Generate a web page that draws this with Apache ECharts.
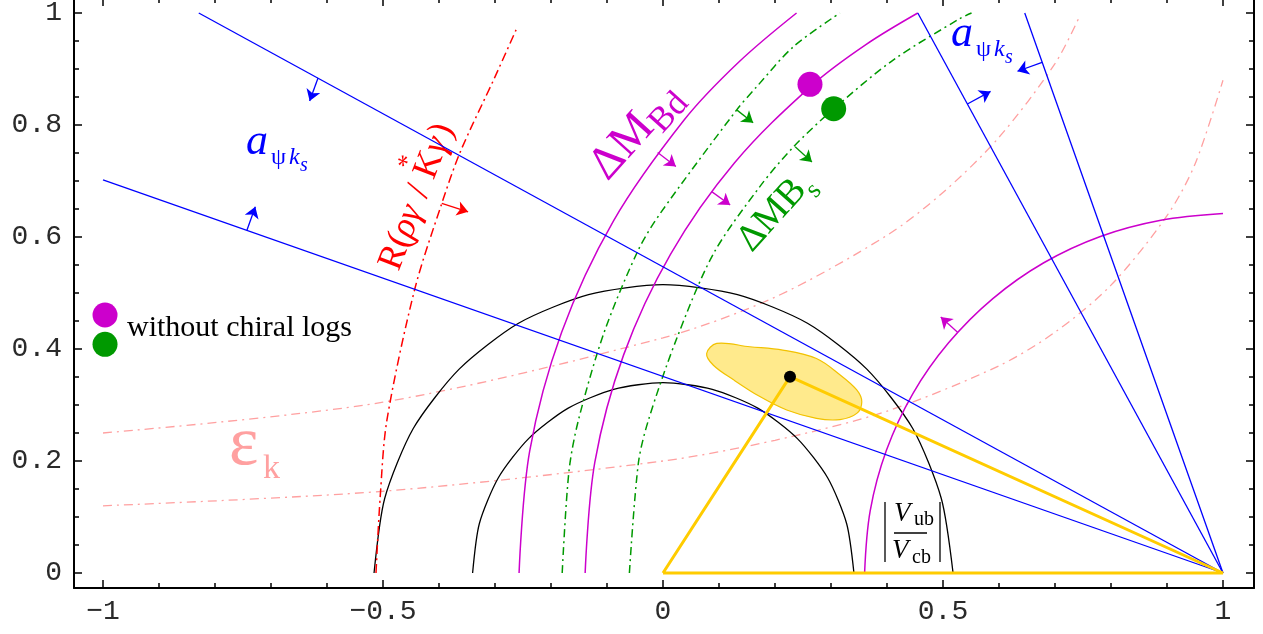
<!DOCTYPE html>
<html><head><meta charset="utf-8">
<script src="https://cdn.jsdelivr.net/npm/echarts@6/dist/echarts.min.js"></script>
<style>html,body{margin:0;padding:0;background:#fff}#c{width:1263px;height:634px}</style>
</head><body><div id="c"></div>
<script>
// ---- axis ticks ----
const xTickLabels = [-1, -0.5, 0, 0.5, 1];
const yTickLabels = [0, 0.2, 0.4, 0.6, 0.8, 1];
const xMinorTicks = [-1,-0.9,-0.8,-0.7,-0.6,-0.5,-0.4,-0.3,-0.2,-0.1,0,0.1,0.2,0.3,0.4,0.5,0.6,0.7,0.8,0.9,1];
const yMinorTicks = [0,0.05,0.1,0.15,0.2,0.25,0.3,0.35,0.4,0.45,0.5,0.55,0.6,0.65,0.7,0.75,0.8,0.85,0.9,0.95,1];

// ---- |Vub/Vcb| semicircles ----
const vubOuter = [[-0.516,0],[-0.497,0.133],[-0.446,0.258],[-0.364,0.364],[-0.258,0.446],[-0.133,0.497],[0,0.515],[0.133,0.497],[0.258,0.446],[0.364,0.364],[0.446,0.258],[0.497,0.133],[0.518,0]];
const vubInner = [[-0.34,0],[-0.328,0.088],[-0.294,0.17],[-0.24,0.24],[-0.17,0.294],[-0.088,0.328],[0,0.34],[0.088,0.328],[0.17,0.294],[0.24,0.24],[0.294,0.17],[0.328,0.088],[0.341,0]];

// ---- Delta M_Bd (magenta) ----
const dmdOuter = [[-0.257,0],[-0.238,0.218],[-0.181,0.43],[-0.0886,0.6285],[0.037,0.808],[0.135,0.912],[0.2385,1.0]];
const dmdInner = [[-0.139,0],[-0.1217,0.1978],[-0.0703,0.3895],[0.0136,0.5695],[0.1275,0.7321],[0.268,0.8725],[0.363,0.944],[0.455,1.0]];
const dmdRight = [[0.36,0],[0.37,0.111],[0.399,0.219],[0.446,0.32],[0.51,0.411],[0.589,0.49],[0.68,0.554],[0.781,0.601],[0.889,0.63],[1.0,0.642]];

// ---- Delta M_Bs (green) ----
const dmsLeft = [[-0.18,0],[-0.168,0.181],[-0.151,0.273],[-0.105,0.43],[-0.044,0.577],[-0.005,0.642],[0.1316,0.827],[0.167,0.868],[0.233,0.94],[0.316,1.0]];
const dmsRight = [[-0.06,0],[-0.044,0.196],[-0.026,0.273],[0.025,0.42],[0.09,0.57],[0.173,0.69],[0.233,0.761],[0.305,0.829],[0.411,0.916],[0.53,0.99],[0.551,1.0]];

// ---- R(rho gamma / K* gamma) (red) ----
const rhoGamma = [[-0.5125,0],[-0.505,0.136],[-0.493,0.273],[-0.443,0.508],[-0.395,0.66],[-0.362,0.752],[-0.3,0.886],[-0.261,0.973]];

// ---- epsilon_K hyperbolas (pink) ----
const epsUpper = [[-1,0.25],[-0.5,0.305],[0,0.42],[0.2,0.4926],[0.4,0.603],[0.5,0.6795],[0.6,0.778],[0.7,0.9096],[0.745,0.996]];
const epsLower = [[-1,0.12],[-0.5,0.146],[0,0.2],[0.2,0.237],[0.4,0.289],[0.6,0.37],[0.7,0.43],[0.8,0.514],[0.9,0.638],[0.95,0.73],[1.0,0.88]];

// ---- a_psiKs (blue lines) ----
const apsiA = [[-1,0.702],[1,0]];
const apsiB = [[-0.829,1.0],[1,0]];
const apsiC = [[0.455,1.0],[1,0]];
const apsiD = [[0.646,1.0],[1,0]];

// ---- unitarity triangle and fit region ----
const triangle = [[0,0],[0.2268,0.3506],[1,0],[0,0]];
const apex = [[0.2268,0.3506]];
const fitRegion = [[0.078,0.392],[0.096,0.41],[0.155,0.404],[0.214,0.398],[0.274,0.383],[0.316,0.354],[0.346,0.327],[0.355,0.306],[0.346,0.285],[0.316,0.274],[0.274,0.276],[0.221,0.291],[0.173,0.315],[0.126,0.345],[0.09,0.371]];

// ---- "without chiral logs" points ----
const noChiralBd = [[0.2625,0.8727],[-0.9964,0.4607]];
const noChiralBs = [[0.3048,0.829],[-0.9964,0.4084]];

// ---- arrows (start on curve, end at tip) ----
const blueArrows = [[[-0.616,0.884],[-0.631,0.843]],[[-0.743,0.612],[-0.728,0.654]],[[0.5436,0.8375],[0.585,0.86]],[[0.677,0.912],[0.633,0.896]]];
const magentaArrows = [[[-0.0095,0.751],[0.023,0.726]],[[0.087,0.681],[0.12,0.657]],[[0.526,0.43],[0.496,0.457]]];
const greenArrows = [[[0.1316,0.827],[0.161,0.804]],[[0.236,0.761],[0.266,0.734]]];
const redArrows = [[[-0.395,0.66],[-0.348,0.645]]];

const X_MIN = -1.0518, X_MAX = 1.0554, Y_MIN = -0.0268, Y_MAX = 1.0268;

const BLUE = '#0000ff', MAG = '#cc00cc', GREEN = '#009900', RED = '#ff0000', PINK = '#ffa0a0', GOLD = '#ffcc00';
const SERIF = "'Liberation Serif','Times New Roman',serif";

const chart = echarts.init(document.getElementById('c'));

function fmt(v){ return v < 0 ? '\u2212' + String(-v) : String(v); }
const tickStyle = {color:'#000', width:1.5};
const lineStyleAxis = {color:'#000', width:2};
function xAx(pos, major){
  return {type:'value', min:X_MIN, max:X_MAX, position:pos, splitLine:{show:false},
    axisLine:{show:major, onZero:false, lineStyle:lineStyleAxis},
    axisTick:{show:true, inside:true, length: major?8:5, customValues: major?xTickLabels:xMinorTicks, lineStyle:tickStyle},
    axisLabel:{show: major && pos==='bottom', customValues:xTickLabels, formatter:fmt, fontFamily:"'Liberation Mono',monospace", fontSize:28, color:'#2a2a2a', margin:10}};
}
function yAx(pos, major){
  return {type:'value', min:Y_MIN, max:Y_MAX, position:pos, splitLine:{show:false},
    axisLine:{show:major, onZero:false, lineStyle:lineStyleAxis},
    axisTick:{show:true, inside:true, length: major?8:5, customValues: major?yTickLabels:yMinorTicks, lineStyle:tickStyle},
    axisLabel:{show: major && pos==='left', customValues:yTickLabels, formatter:fmt, fontFamily:"'Liberation Mono',monospace", fontSize:28, color:'#2a2a2a', margin:12}};
}
function curve(data, color, width, type, smooth){
  return {type:'line', data:data, showSymbol:false, symbol:'none', smooth:smooth, silent:true,
    lineStyle:{color:color, width:width, type:type}, z:3};
}
function arrows(list, color){
  return {type:'lines', coordinateSystem:'cartesian2d', silent:true, z:4,
    symbol:['none','arrow'], symbolSize:[0,11],
    lineStyle:{color:color, width:1.3, opacity:1, curveness:0},
    data:list.map(c=>({coords:c}))};
}
function T(text, x, y, font, color, extra){
  return Object.assign({type:'text', x:x, y:y, silent:true,
    style:Object.assign({text:text, font:font, fill:color, align:'left', verticalAlign:'middle', textAlign:'left', textVerticalAlign:'middle'}, (extra&&extra.style)||{})}, extra&&extra.el||{});
}

const option = {
  animation:false,
  grid:{left:74, right:9, top:-2, bottom:46, outerBoundsMode:'none', containLabel:false},
  xAxis:[xAx('bottom',true), xAx('bottom',false), xAx('top',true), xAx('top',false)],
  yAxis:[yAx('left',true), yAx('left',false), yAx('right',true), yAx('right',false)],
  series:[
    {type:'custom', coordinateSystem:'cartesian2d', data:[[0,0]], silent:true, z:1,
      renderItem:function(params, api){
        return {type:'polygon', shape:{points:fitRegion.map(p=>api.coord(p)), smooth:0.35},
          style:{fill:'#ffea8c', stroke:'#f2c200', lineWidth:1.2}};
      }},
    curve(epsUpper, PINK, 1.3, [9,5,2,5], 0.3),
    curve(epsLower, PINK, 1.3, [9,5,2,5], 0.3),
    curve(vubOuter, '#000', 1.3, 'solid', 0.25),
    curve(vubInner, '#000', 1.3, 'solid', 0.25),
    curve(dmdOuter, MAG, 1.5, 'solid', 0.35),
    curve(dmdInner, MAG, 1.5, 'solid', 0.35),
    curve(dmdRight, MAG, 1.5, 'solid', 0.35),
    curve(dmsLeft, GREEN, 1.5, [8,4,2,4], 0.3),
    curve(dmsRight, GREEN, 1.5, [8,4,2,4], 0.3),
    curve(rhoGamma, RED, 1.5, [9,4,2,4], 0.3),
    curve(apsiA, BLUE, 1.3, 'solid', false),
    curve(apsiB, BLUE, 1.3, 'solid', false),
    curve(apsiC, BLUE, 1.3, 'solid', false),
    curve(apsiD, BLUE, 1.3, 'solid', false),
    Object.assign(curve(triangle, GOLD, 3, 'solid', false), {z:5}),
    arrows(blueArrows, BLUE), arrows(magentaArrows, MAG), arrows(greenArrows, GREEN), arrows(redArrows, RED),
    {type:'scatter', data:apex, symbolSize:12, itemStyle:{color:'#000', opacity:1}, silent:true, z:6},
    {type:'scatter', data:noChiralBd, symbolSize:25, itemStyle:{color:MAG, opacity:1}, silent:true, z:6},
    {type:'scatter', data:noChiralBs, symbolSize:25, itemStyle:{color:GREEN, opacity:1}, silent:true, z:6}
  ],
  graphic:[
    // a_psiKs left
    T('a', 246, 142, "italic 44px "+SERIF, BLUE),
    T('\u03c8', 271, 158, "24px "+SERIF, BLUE),
    T('k', 289, 158, "italic 24px "+SERIF, BLUE),
    T('s', 300, 166, "italic 20px "+SERIF, BLUE),
    // a_psiKs right
    T('a', 951, 34, "italic 44px "+SERIF, BLUE),
    T('\u03c8', 976, 50, "24px "+SERIF, BLUE),
    T('k', 994, 50, "italic 24px "+SERIF, BLUE),
    T('s', 1005, 58, "italic 20px "+SERIF, BLUE),
    // epsilon_K
    T('\u03b5', 229, 446, "70px "+SERIF, PINK),
    T('k', 263, 469, "34px "+SERIF, PINK),
    // |Vub/Vcb|
    T('V', 894, 514, "italic 27px "+SERIF, '#000'),
    T('ub', 914, 520, "20px "+SERIF, '#000'),
    T('V', 892, 551, "italic 27px "+SERIF, '#000'),
    T('cb', 912, 558, "20px "+SERIF, '#000'),
    {type:'line', silent:true, shape:{x1:894,y1:533,x2:927,y2:533}, style:{stroke:'#000', lineWidth:1.3}},
    {type:'line', silent:true, shape:{x1:885,y1:502,x2:885,y2:562}, style:{stroke:'#000', lineWidth:1.3}},
    {type:'line', silent:true, shape:{x1:940,y1:502,x2:940,y2:562}, style:{stroke:'#000', lineWidth:1.3}},
    // legend text
    T('without chiral logs', 127, 328, "30px "+SERIF, '#000'),
    // Delta M_Bd
    {type:'group', x:610, y:184, rotation:48*Math.PI/180, silent:true, children:[
      T('\u0394M', 0, -15.6, "47px "+SERIF, MAG),
      T('Bd', 72, -3.6, "35px "+SERIF, MAG)
    ]},
    // Delta M_Bs
    {type:'group', x:754, y:255, rotation:48*Math.PI/180, silent:true, children:[
      T('\u0394MB', 0, -13, "38px "+SERIF, GREEN),
      T('s', 83, 1.2, "26px "+SERIF, GREEN)
    ]},
    // R(rho gamma / K* gamma)
    {type:'group', x:401, y:273, rotation:69*Math.PI/180, silent:true, children:[
      T('R(', 0, -12.2, "36px "+SERIF, RED),
      T('\u03c1\u03b3', 35, -12.2, "italic 36px "+SERIF, RED),
      T('/', 78, -12.2, "36px "+SERIF, RED),
      T('K', 98, -12.2, "36px "+SERIF, RED),
      T('*', 99, -33, "26px "+SERIF, RED),
      T('\u03b3', 125, -12.2, "italic 36px "+SERIF, RED),
      T(')', 142, -12.2, "36px "+SERIF, RED)
    ]}
  ]
};
chart.setOption(option);
</script>
</body></html>
